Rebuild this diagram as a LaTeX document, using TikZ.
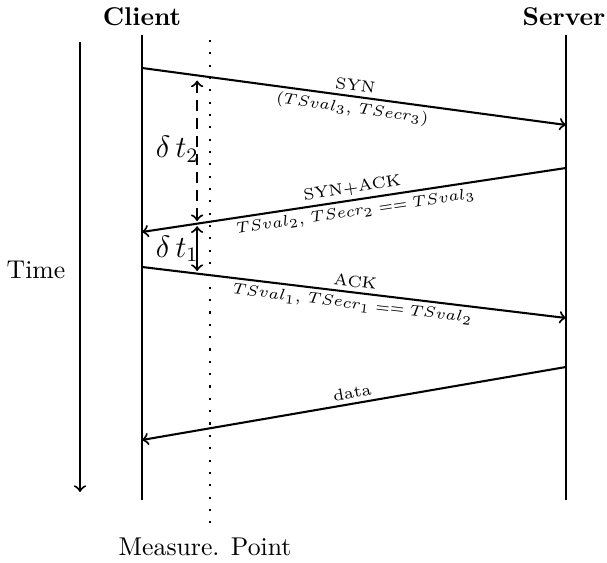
\documentclass[tikz,border=0pt]{standalone}

\tikzset{
	msg/.style={midway,sloped,font=\fontsize{6.3}{7.5}\selectfont,inner sep=1.6pt},
	delta/.style={midway,left,inner sep=-1pt,font=\large}
}

\begin{document}
\begin{tikzpicture}[x=0.389pt,y=-0.389pt,thick]
		\useasboundingbox (0,0) rectangle (607,563);
		\node (CL) at (142,17) {\textbf{Client}};
		\node (SV) at (564,17) {\textbf{Server}};
		\coordinate (CT) at (142,35);
		\coordinate (CB) at (142,500);
		\coordinate (ST) at (566,35);
		\coordinate (SB) at (566,500);
		\draw (CT) -- (CB);
		\draw (ST) -- (SB);
		\coordinate (MT) at (210,40);
		\coordinate (MB) at (210,530);
		\draw[loosely dotted] (MT) -- (MB);
		\node (MP) at (205,547) {Measure. Point};
		\coordinate (TT) at (80,42);
		\coordinate (TB) at (80,492);
		\draw[->] (TT) -- (TB);
		\node (TM) at (36,270) {Time};
		\coordinate (C1) at (142,68);
		\coordinate (S1) at (566,125);
		\coordinate (S2) at (566,168);
		\coordinate (C2) at (142,232);
		\coordinate (C3) at (142,267);
		\coordinate (S3) at (566,318);
		\coordinate (S4) at (566,367);
		\coordinate (C4) at (142,440);
		\draw[->] (C1) -- node[msg,above] {SYN} node[msg,below] {$(TSval_3$, $TSecr_3)$} (S1);
		\draw[->] (S2) -- node[msg,above] {SYN+ACK} node[msg,below] {$TSval_2$, $TSecr_2 == TSval_3$} (C2);
		\draw[->] (C3) -- node[msg,above] {ACK} node[msg,below] {$TSval_1$, $TSecr_1 == TSval_2$} (S3);
		\draw[->] (S4) -- node[msg,above] {data} (C4);
		\path (C1) -- (S1) coordinate[pos=0.13] (D1);
		\path (C2) -- (S2) coordinate[pos=0.13] (D2);
		\path (C3) -- (S3) coordinate[pos=0.13] (D3);
		\draw[<->,dash pattern=on 4pt off 3pt,shorten <=2pt,shorten >=1pt] (D1) -- node[delta] {$\delta\,t_2$} (D2);
		\draw[<->,shorten <=1pt,shorten >=1pt] (D2) -- node[delta] {$\delta\,t_1$} (D3);
	\end{tikzpicture}
\end{document}
